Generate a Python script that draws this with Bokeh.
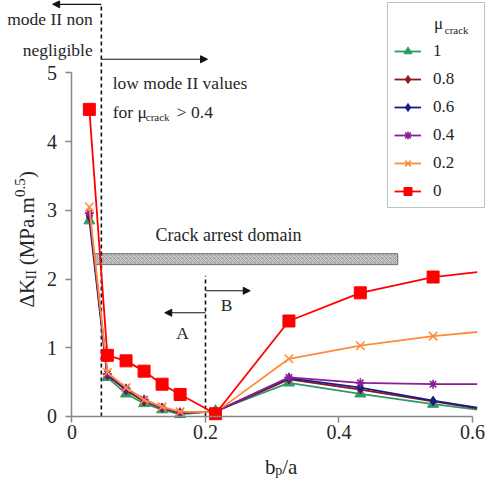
import math
from bokeh.plotting import figure
from bokeh.models import (Range1d, FixedTicker, Legend, LegendItem, Arrow, NormalHead,
                          CustomJSTickFormatter)
from bokeh.core.properties import value
from bokeh.embed import file_html
from bokeh.resources import INLINE

# ---------------- data ----------------
bp_a = [0.026, 0.053, 0.081, 0.108, 0.135, 0.162, 0.215, 0.325, 0.432, 0.541, 0.607]
mu_labels = ["1", "0.8", "0.6", "0.4", "0.2", "0"]
dk_mu_1 = [2.85, 0.57, 0.33, 0.19, 0.10, 0.03, 0.08, 0.49, 0.33, 0.18, 0.10]
dk_mu_08 = [2.90, 0.60, 0.38, 0.22, 0.12, 0.05, 0.07, 0.54, 0.39, 0.22, 0.12]
dk_mu_06 = [2.93, 0.61, 0.40, 0.24, 0.13, 0.06, 0.07, 0.56, 0.42, 0.23, 0.13]
dk_mu_04 = [2.96, 0.62, 0.41, 0.25, 0.13, 0.06, 0.07, 0.57, 0.49, 0.47, 0.47]
dk_mu_02 = [3.05, 0.64, 0.42, 0.24, 0.14, 0.07, 0.06, 0.84, 1.03, 1.17, 1.23]
dk_mu_0 = [4.47, 0.89, 0.81, 0.66, 0.47, 0.32, 0.04, 1.39, 1.80, 2.03, 2.10]
series = [dk_mu_1, dk_mu_08, dk_mu_06, dk_mu_04, dk_mu_02, dk_mu_0]
n_markers = 10  # last value is where the curves leave the plot area (no marker)

x_ticks = [0, 0.2, 0.4, 0.6]
y_ticks = [0, 1, 2, 3, 4, 5]

# domain boundaries (dashed lines)
bound_x = [0.044, 0.2]
bound_top = [6.0, 2.05]

# crack arrest domain bar
arrest_left, arrest_right = 0.034, 0.488
arrest_bottom, arrest_top = 2.21, 2.37

# arrows: (x_start, y_start, x_end, y_end)
arrow_x0 = [0.044, 0.044, 0.2, 0.2]
arrow_y0 = [6.0, 5.2, 1.51, 1.83]
arrow_x1 = [-0.029, 0.203, 0.139, 0.267]
arrow_y1 = [6.0, 5.2, 1.51, 1.83]

colors = ["#2E9A6A", "#8B1A1A", "#1A1A8C", "#8A1E96", "#FF8C3A", "#FF0000"]
markers = ["triangle", "diamond", "diamond", "asterisk", "x", "square"]
msizes = [11, 9, 9, 9, 12, 12]

FONT = "Liberation Serif"
TXT = "#262626"

p = figure(width=487, height=478,
           x_range=Range1d(-0.1071, 0.6225), y_range=Range1d(-0.9025, 6.055),
           output_backend="svg", toolbar_location=None, min_border=0,
           outline_line_color=None, background_fill_color="white")
p.xgrid.visible = False
p.ygrid.visible = False

for ax in (p.xaxis[0], p.yaxis[0]):
    ax.fixed_location = 0
    ax.axis_line_color = "#878787"
    ax.axis_line_width = 1.5
    ax.major_tick_line_color = "#878787"
    ax.major_tick_line_width = 1.5
    ax.major_tick_out = 6
    ax.major_tick_in = 0
    ax.minor_tick_line_color = None
    ax.major_label_text_font = FONT
    ax.major_label_text_font_size = "20px"
    ax.major_label_text_color = TXT
p.xaxis.bounds = (0, 0.6)
p.yaxis.bounds = (0, 5)
p.xaxis.ticker = FixedTicker(ticks=x_ticks)
p.yaxis.ticker = FixedTicker(ticks=y_ticks)
p.xaxis.formatter = CustomJSTickFormatter(code="return String(Math.round(tick*10)/10)")
p.xaxis.major_label_standoff = 3
p.yaxis.major_label_standoff = 9

# hatched bar
p.quad(left=[arrest_left], right=[arrest_right], bottom=[arrest_bottom], top=[arrest_top],
       fill_color="#c4c4c4", line_color="#6e6e6e", line_width=1,
       hatch_pattern="diagonal_cross", hatch_color="#8a8a8a", hatch_scale=4, hatch_weight=0.6)

# dashed boundaries
p.segment(x0=bound_x, y0=[0, 0], x1=bound_x, y1=bound_top,
          line_color="#111111", line_width=1.6, line_dash="4 3")

items = []
for lab, ys, c, m, s in zip(mu_labels, series, colors, markers, msizes):
    lr = p.line(bp_a, ys, line_color=c, line_width=1.8)
    sr = p.scatter(bp_a[:n_markers], ys[:n_markers], marker=m, size=s,
                   fill_color=c, line_color=c, line_width=1.6 if m in ("x", "asterisk") else 1)
    items.append(LegendItem(label=lab, renderers=[lr, sr]))

legend = Legend(items=items, location=(387, 270), title="μ",
                title_text_alpha=0, title_text_font_size="20px", title_standoff=9,
                padding=6, spacing=8, glyph_height=20, glyph_width=27, label_height=20,
                label_width=45, label_standoff=12, margin=0,
                label_text_font=FONT, label_text_font_size="17px", label_text_color=TXT,
                border_line_color="#878787", border_line_width=1.5,
                background_fill_alpha=0)
p.add_layout(legend, "center")

# arrows
for x0, y0, x1, y1 in zip(arrow_x0, arrow_y0, arrow_x1, arrow_y1):
    p.add_layout(Arrow(end=NormalHead(size=7, fill_color="#111111", line_color="#111111"),
                       x_start=x0, y_start=y0, x_end=x1, y_end=y1,
                       line_color="#111111", line_width=1.2))

def txt(x, y, t, size, align="left", baseline="middle", angle=0.0):
    p.text(x=[x], y=[y], text=[t], text_font=value(FONT), text_font_size=value(size),
           text_color=TXT, text_align=align, text_baseline=baseline, angle=angle)

# annotations
txt(0.031, 5.78, "mode II non", "17.5px", align="right")
txt(0.031, 5.33, "negligible", "17.5px", align="right")
txt(0.061, 4.86, "low mode II values", "17.5px")
txt(0.061, 4.43, "for μ", "17.5px")
txt(0.1105, 4.36, "crack", "11px")
txt(0.157, 4.43, "> 0.4", "17.5px")
txt(0.2345, 2.635, "Crack arrest domain", "18px", align="center")
txt(0.1655, 1.21, "A", "17.5px", align="center")
txt(0.2315, 1.63, "B", "17.5px", align="center")

# legend title with subscript
txt(0.5425, 5.72, "μ", "17px")
txt(0.5585, 5.63, "crack", "11px")

# x axis label  b_p/a
txt(0.289, -0.735, "b", "21px", baseline="alphabetic")
txt(0.3045, -0.785, "p", "14px", baseline="alphabetic")
txt(0.3150, -0.735, "/a", "21px", baseline="alphabetic")

# y axis label  ΔK_II (MPa.m^0.5)  rotated
a = math.pi / 2
txt(-0.0667, 1.587, "ΔK", "21px", baseline="alphabetic", angle=a)
txt(-0.0610, 1.995, "II", "14px", baseline="alphabetic", angle=a)
txt(-0.0667, 2.200, "(MPa.m", "21px", baseline="alphabetic", angle=a)
txt(-0.0785, 3.195, "0.5", "15px", baseline="alphabetic", angle=a)
txt(-0.0667, 3.470, ")", "21px", baseline="alphabetic", angle=a)

open("out.html", "w").write(file_html(p, INLINE))
